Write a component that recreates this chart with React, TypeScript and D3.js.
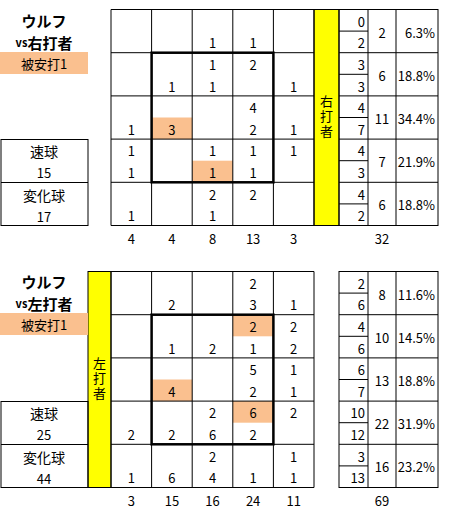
import * as d3 from 'd3'

// zone grid: rows top->bottom, cols left->right; upper half = 速球, lower half = 変化球
const rhFast = [
  [0, 0, 0, 0, 0],
  [0, 0, 1, 2, 0],
  [0, 0, 0, 4, 0],
  [1, 0, 1, 1, 1],
  [0, 0, 2, 2, 0],
]
const rhBreaking = [
  [0, 0, 1, 1, 0],
  [0, 1, 1, 0, 1],
  [1, 3, 0, 2, 1],
  [1, 0, 1, 1, 0],
  [1, 0, 1, 0, 0],
]
// hits: [row, col, half] half 0 = upper, 1 = lower
const rhHits = [
  [2, 1, 1],
  [3, 2, 1],
]

const lhFast = [
  [0, 0, 0, 2, 0],
  [0, 0, 0, 2, 2],
  [0, 0, 0, 5, 1],
  [0, 0, 2, 6, 2],
  [0, 0, 2, 0, 1],
]
const lhBreaking = [
  [0, 2, 0, 3, 1],
  [0, 1, 2, 1, 2],
  [0, 4, 0, 2, 1],
  [2, 2, 6, 2, 0],
  [1, 6, 4, 1, 1],
]
const lhHits = [
  [1, 3, 0],
  [2, 1, 1],
  [3, 3, 0],
]

const pitcher = 'ウルフ'
const hitLabel = '被安打1'
const fastLabel = '速球'
const breakingLabel = '変化球'

const FONT = '"Noto Sans CJK JP", "DejaVu Sans", sans-serif'
const ORANGE = '#FAC08F'
const YELLOW = '#FFFF00'

const sum = (a: number[]) => a.reduce((s, v) => s + v, 0)

interface PanelProps {
  fast: number[][]
  breaking: number[][]
  hits: number[][]
  side: string
  top: number
  bandLeft: boolean
  labelY: [number, number]
  boxTop: number
  totalsY: number
}

function Panel({ fast, breaking, hits, side, top, bandLeft, labelY, boxTop, totalsY }: PanelProps) {
  const idx = d3.range(5)
  const x = d3.scaleBand<number>().domain(idx).range([111, 314])
  const y = d3.scaleBand<number>().domain(idx).range([top, top + 216])
  const bw = x.bandwidth()
  const bh = y.bandwidth()
  const halfY = (r: number, h: number) => (y(r) as number) + (h + 0.5) * (bh / 2)

  const rowFast = fast.map(sum)
  const rowBreak = breaking.map(sum)
  const rowTot = rowFast.map((v, i) => v + rowBreak[i])
  const total = sum(rowTot)
  const colTot = idx.map(c => d3.sum(idx, r => fast[r][c] + breaking[r][c]))

  const bandX = bandLeft ? 88 : 314
  const tableL = 339
  const cntR = 368
  const totR = 396
  const tableR = 438
  const yTop = top
  const yBot = top + 216

  const numStyle = { fontFamily: FONT, fontSize: 13, fill: '#000' } as const
  const bandCx = bandX + (bandLeft ? 11.5 : 12.5)

  return (
    <g>
      {/* hit highlights */}
      {hits.map(([r, c, h], i) => (
        <rect key={'h' + i} x={x(c)} y={(y(r) as number) + h * (bh / 2)} width={bw} height={bh / 2} fill={ORANGE} />
      ))}
      {/* yellow band with vertical label */}
      <rect x={bandX} y={yTop} width={bandLeft ? 23 : 25} height={216} fill={YELLOW} stroke="#000" strokeWidth={1} />
      <text
        x={bandCx}
        y={(yTop + yBot) / 2}
        textAnchor="middle"
        style={{ ...numStyle, writingMode: 'vertical-rl', letterSpacing: 2 }}
      >
        {side}
      </text>
      {/* grid */}
      {idx.concat(5).map(i => (
        <line key={'v' + i} x1={111 + i * bw} x2={111 + i * bw} y1={yTop} y2={yBot} stroke="#000" strokeWidth={1} />
      ))}
      {idx.concat(5).map(i => (
        <line key={'hz' + i} x1={111} x2={314} y1={yTop + i * bh} y2={yTop + i * bh} stroke="#000" strokeWidth={1} />
      ))}
      {/* strike zone */}
      <rect x={x(1)} y={y(1)} width={bw * 3} height={bh * 3} fill="none" stroke="#000" strokeWidth={2.5} />
      {/* cell values */}
      {idx.map(r =>
        idx.map(c => (
          <g key={r + '-' + c}>
            {fast[r][c] > 0 && (
              <text x={(x(c) as number) + bw / 2} y={halfY(r, 0) + 1} textAnchor="middle" dominantBaseline="central" style={numStyle}>
                {fast[r][c]}
              </text>
            )}
            {breaking[r][c] > 0 && (
              <text x={(x(c) as number) + bw / 2} y={halfY(r, 1) + 1} textAnchor="middle" dominantBaseline="central" style={numStyle}>
                {breaking[r][c]}
              </text>
            )}
          </g>
        ))
      )}
      {/* right table */}
      <rect x={tableL} y={yTop} width={tableR - tableL} height={216} fill="none" stroke="#000" strokeWidth={1} />
      <line x1={cntR} x2={cntR} y1={yTop} y2={yBot} stroke="#000" />
      <line x1={totR} x2={totR} y1={yTop} y2={yBot} stroke="#000" />
      {idx.map(r => (
        <g key={'t' + r}>
          <line x1={tableL} x2={tableR} y1={(y(r) as number)} y2={(y(r) as number)} stroke="#000" />
          <line x1={tableL} x2={cntR} y1={(y(r) as number) + bh / 2} y2={(y(r) as number) + bh / 2} stroke="#000" />
          <text x={365} y={halfY(r, 0) + 1} textAnchor="end" dominantBaseline="central" style={numStyle}>{rowFast[r]}</text>
          <text x={365} y={halfY(r, 1) + 1} textAnchor="end" dominantBaseline="central" style={numStyle}>{rowBreak[r]}</text>
          <text x={(cntR + totR) / 2} y={(y(r) as number) + bh / 2 + 1} textAnchor="middle" dominantBaseline="central" style={numStyle}>{rowTot[r]}</text>
          <text x={435} y={(y(r) as number) + bh / 2 + 1} textAnchor="end" dominantBaseline="central" style={numStyle}>
            {((rowTot[r] / total) * 100).toFixed(1) + '%'}
          </text>
        </g>
      ))}
      {/* column totals */}
      {idx.map(c => (
        <text key={'c' + c} x={(x(c) as number) + bw / 2} y={totalsY} textAnchor="middle" dominantBaseline="central" style={numStyle}>
          {colTot[c]}
        </text>
      ))}
      <text x={(cntR + totR) / 2} y={totalsY} textAnchor="middle" dominantBaseline="central" style={numStyle}>{total}</text>
      {/* left labels */}
      <text x={44} y={labelY[0]} textAnchor="middle" dominantBaseline="central" style={{ fontFamily: FONT, fontSize: 15, fontWeight: 700 }}>
        {pitcher}
      </text>
      <text x={44} y={labelY[1]} textAnchor="middle" dominantBaseline="central" style={{ fontFamily: FONT, fontSize: 15, fontWeight: 700 }}>
        <tspan style={{ fontSize: 11 }}>vs</tspan>
        {side}
      </text>
      <rect x={0} y={labelY[1] + 10} width={88} height={22} fill={ORANGE} />
      <text x={44} y={labelY[1] + 21.5} textAnchor="middle" dominantBaseline="central" style={numStyle}>
        {hitLabel}
      </text>
      <rect x={1} y={boxTop} width={87} height={yBot - boxTop} fill="none" stroke="#000" />
      <line x1={1} x2={88} y1={(boxTop + yBot) / 2} y2={(boxTop + yBot) / 2} stroke="#000" />
      <text x={44} y={boxTop + 11} textAnchor="middle" dominantBaseline="central" style={{ ...numStyle, fontSize: 14 }}>{fastLabel}</text>
      <text x={44} y={boxTop + 33} textAnchor="middle" dominantBaseline="central" style={numStyle}>{sum(rowFast)}</text>
      <text x={44} y={boxTop + 55} textAnchor="middle" dominantBaseline="central" style={{ ...numStyle, fontSize: 14 }}>{breakingLabel}</text>
      <text x={44} y={boxTop + 77} textAnchor="middle" dominantBaseline="central" style={numStyle}>{sum(rowBreak)}</text>
    </g>
  )
}

export default function App() {
  return (
    <svg width={449} height={517} style={{ position: 'absolute', left: 0, top: 0, background: '#fff' }}>
      <rect width={449} height={517} fill="#fff" />
      <Panel fast={rhFast} breaking={rhBreaking} hits={rhHits} side="右打者" top={9.5} bandLeft={false} labelY={[20, 42]} boxTop={139.5} totalsY={238} />
      <Panel fast={lhFast} breaking={lhBreaking} hits={lhHits} side="左打者" top={271.5} bandLeft={true} labelY={[281, 303]} boxTop={401.5} totalsY={500} />
    </svg>
  )
}
